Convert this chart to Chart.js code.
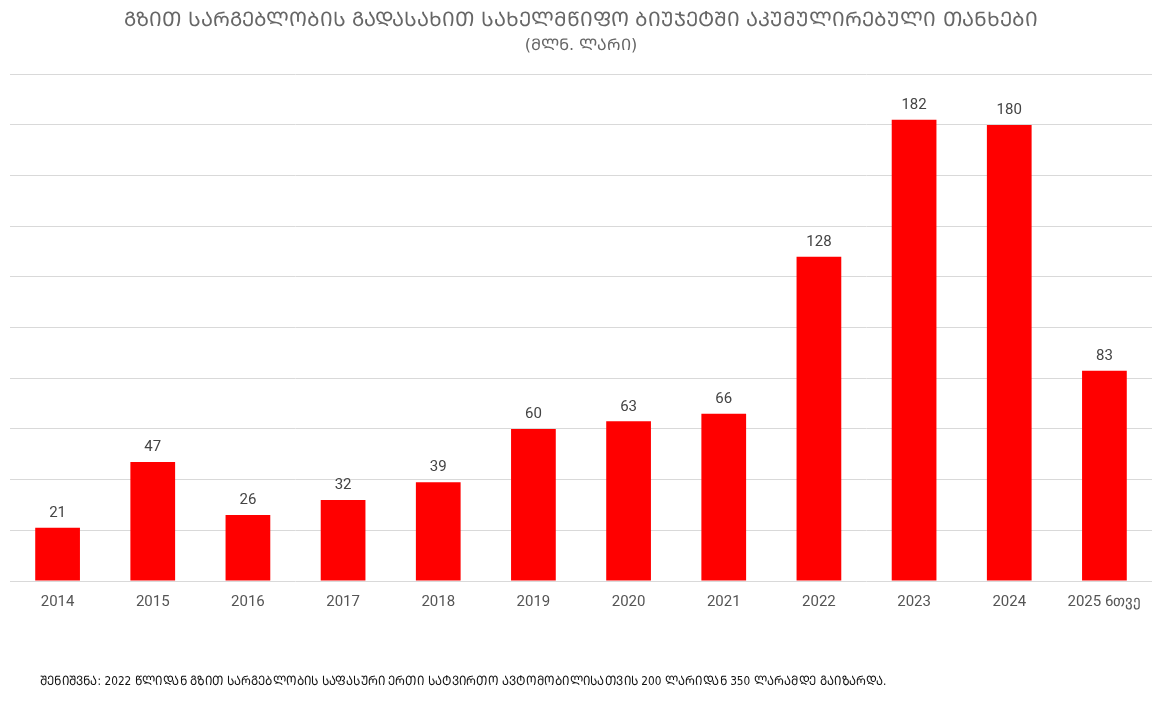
<!DOCTYPE html>
<html>
<head>
<meta charset="utf-8">
<title>გზით სარგებლობის გადასახადი</title>
<script src="https://cdn.jsdelivr.net/npm/chart.js"></script>
<style>
  html, body { margin: 0; padding: 0; background: #fff; }
  #wrap { position: relative; width: 1162px; height: 706px; }
  #note {
    position: absolute; left: 40px; top: 671px;
    font-family: "DejaVu Sans Condensed", "DejaVu Sans", sans-serif;
    font-stretch: condensed;
    font-size: 13px; color: #111; white-space: nowrap;
    transform: scaleX(0.9); transform-origin: left top;
  }
</style>
</head>
<body>
<div id="wrap">
  <canvas id="chart" width="1162" height="706"></canvas>
  <div id="note">ᲨᲔᲜᲘᲨᲕᲜᲐ: 2022 ᲬᲚᲘᲓᲐᲜ ᲒᲖᲘᲗ ᲡᲐᲠᲒᲔᲑᲚᲝᲑᲘᲡ ᲡᲐᲤᲐᲡᲣᲠᲘ ᲔᲠᲗᲘ ᲡᲐᲢᲕᲘᲠᲗᲝ ᲐᲕᲢᲝᲛᲝᲑᲘᲚᲘᲡᲐᲗᲕᲘᲡ 200 ᲚᲐᲠᲘᲓᲐᲜ 350 ᲚᲐᲠᲐᲛᲓᲔ ᲒᲐᲘᲖᲐᲠᲓᲐ.</div>
</div>
<script>
const years = ['2014', '2015', '2016', '2017', '2018', '2019', '2020', '2021', '2022', '2023', '2024', '2025 6თვე'];
const amounts = [21, 47, 26, 32, 39, 60, 63, 66, 128, 182, 180, 83];
const titleText = 'ᲒᲖᲘᲗ ᲡᲐᲠᲒᲔᲑᲚᲝᲑᲘᲡ ᲒᲐᲓᲐᲡᲐᲮᲘᲗ ᲡᲐᲮᲔᲚᲛᲬᲘᲤᲝ ᲑᲘᲣᲯᲔᲢᲨᲘ ᲐᲙᲣᲛᲣᲚᲘᲠᲔᲑᲣᲚᲘ ᲗᲐᲜᲮᲔᲑᲘ';
const subtitleText = '(ᲛᲚᲜ. ᲚᲐᲠᲘ)';

// values above the bars
const valueLabels = {
  id: 'valueLabels',
  afterDatasetsDraw(chart) {
    const ctx = chart.ctx;
    const meta = chart.getDatasetMeta(0);
    ctx.save();
    ctx.font = '15px Roboto, sans-serif';
    ctx.fillStyle = '#444';
    ctx.textAlign = 'center';
    ctx.textBaseline = 'bottom';
    meta.data.forEach((bar, i) => {
      ctx.fillText(amounts[i], bar.x, bar.y - 7);
    });
    ctx.restore();
  }
};

const ctx = document.getElementById('chart').getContext('2d');
new Chart(ctx, {
  type: 'bar',
  data: {
    labels: years,
    datasets: [{
      data: amounts,
      backgroundColor: '#ff0000',
      barPercentage: 0.47,
      categoryPercentage: 1.0
    }]
  },
  options: {
    responsive: false,
    animation: false,
    layout: { padding: { left: 10, right: 10, top: 0, bottom: 91 } },
    plugins: {
      legend: { display: false },
      tooltip: { enabled: false },
      title: {
        display: true,
        text: titleText,
        color: '#666',
        font: { family: 'DejaVu Sans', size: 20, weight: 'normal' },
        padding: { top: 9, bottom: 3 }
      },
      subtitle: {
        display: true,
        text: subtitleText,
        color: '#666',
        font: { family: 'DejaVu Sans', size: 16, weight: 'normal' },
        padding: { top: 0, bottom: 19 }
      }
    },
    scales: {
      x: {
        grid: { display: false },
        border: { display: false },
        ticks: { color: '#555', font: { family: 'Roboto', size: 15 }, padding: 4, maxRotation: 0 }
      },
      y: {
        min: 0, max: 200,
        ticks: { display: false, stepSize: 20 },
        border: { display: false },
        grid: { color: '#d9d9d9', drawTicks: false }
      }
    }
  },
  plugins: [valueLabels]
});
</script>
</body>
</html>
